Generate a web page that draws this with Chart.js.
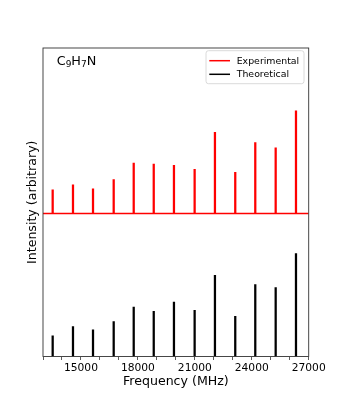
<!DOCTYPE html>
<html>
<head>
<meta charset="utf-8">
<script src="https://cdn.jsdelivr.net/npm/chart.js@4.4.0/dist/chart.umd.min.js"></script>
<style>
  html, body { margin: 0; padding: 0; background: #fff; }
  canvas { display: block; }
</style>
</head>
<body>
<canvas id="spectrum" width="343" height="401"></canvas>
<script>
// ---- data ----
// line positions (MHz)
const frequencies = [13510, 14580, 15635, 16725, 17780, 18835, 19900, 20990, 22060, 23130, 24185, 25260, 26330];
// relative intensities (strongest line = 1)
const experimental = [0.23, 0.28, 0.24, 0.33, 0.49, 0.48, 0.47, 0.43, 0.79, 0.40, 0.69, 0.64, 1.00];
const theoretical = [0.20, 0.29, 0.26, 0.34, 0.48, 0.44, 0.53, 0.45, 0.79, 0.39, 0.70, 0.67, 1.00];
// experimental trace is shifted up by this much
const expOffset = 1.39;
const xTickLabels = [15000, 18000, 21000, 24000, 27000];
const xMin = 13000;
const xMax = 27000;

const FONT = "'DejaVu Sans', sans-serif";

// ---- frame, legend and formula label ----
const decorations = {
  id: 'decorations',
  afterDraw(chart) {
    const { ctx, chartArea: a } = chart;
    ctx.save();

    // axes frame on all four sides
    ctx.strokeStyle = '#333';
    ctx.lineWidth = 0.9;
    ctx.strokeRect(a.left, a.top, a.right - a.left, a.bottom - a.top);

    // molecule label C9H7N with subscripts
    const parts = [['C', false], ['9', true], ['H', false], ['7', true], ['N', false]];
    let x = a.left + 13.7;
    const base = a.top + 17;
    ctx.fillStyle = '#000';
    ctx.textBaseline = 'alphabetic';
    ctx.textAlign = 'left';
    parts.forEach(([t, sub]) => {
      ctx.font = (sub ? '9px ' : '12.8px ') + FONT;
      ctx.fillText(t, x, sub ? base + 2.2 : base);
      x += ctx.measureText(t).width;
    });

    // legend box
    const bx = 206, by = 50.7, bw = 98, bh = 33;
    ctx.beginPath();
    ctx.roundRect(bx, by, bw, bh, 2.5);
    ctx.fillStyle = 'rgba(255,255,255,0.8)';
    ctx.fill();
    ctx.strokeStyle = '#d6d6d6';
    ctx.lineWidth = 0.9;
    ctx.stroke();

    const entries = chart.data.datasets.filter(d => d.inLegend);
    ctx.font = '9.4px ' + FONT;
    ctx.textBaseline = 'middle';
    entries.forEach((d, i) => {
      const y = by + 10 + i * 13.6;
      ctx.beginPath();
      ctx.moveTo(bx + 3.3, y);
      ctx.lineTo(bx + 24, y);
      ctx.strokeStyle = d.backgroundColor;
      ctx.lineWidth = 1.5;
      ctx.stroke();
      ctx.fillStyle = '#000';
      ctx.fillText(d.label, bx + 30.7, y + 0.5);
    });

    ctx.restore();
  }
};

new Chart(document.getElementById('spectrum'), {
  data: {
    datasets: [
      {
        type: 'bar',
        label: 'Experimental',
        inLegend: true,
        data: frequencies.map((f, i) => ({ x: f, y: [expOffset, expOffset + experimental[i]] })),
        backgroundColor: '#ff0000',
        barThickness: 1.6,
        grouped: false,
      },
      {
        type: 'line',
        label: 'baseline',
        data: [{ x: xMin, y: expOffset }, { x: xMax, y: expOffset }],
        borderColor: '#ff0000',
        borderWidth: 1.5,
        pointRadius: 0,
      },
      {
        type: 'bar',
        label: 'Theoretical',
        inLegend: true,
        data: frequencies.map((f, i) => ({ x: f, y: theoretical[i] })),
        backgroundColor: '#000000',
        barThickness: 1.6,
        grouped: false,
      },
    ],
  },
  options: {
    responsive: false,
    animation: false,
    devicePixelRatio: 1,
    layout: { padding: { left: 0, top: 48, right: 34.3, bottom: 0 } },
    plugins: {
      legend: { display: false },
      tooltip: { enabled: false },
    },
    scales: {
      x: {
        type: 'linear',
        min: xMin,
        max: xMax,
        offset: false,
        border: { display: false },
        grid: {
          display: true,
          offset: false,
          drawOnChartArea: false,
          drawTicks: true,
          tickLength: 3.5,
          tickColor: '#333',
          tickWidth: 0.8,
        },
        ticks: {
          stepSize: 1000,
          autoSkip: false,
          maxRotation: 0,
          padding: 2,
          color: '#000',
          font: { family: FONT, size: 10.7 },
          callback: (v) => (xTickLabels.includes(v) ? String(v) : ''),
        },
        title: {
          display: true,
          text: 'Frequency (MHz)',
          color: '#000',
          font: { family: FONT, size: 12.6 },
          padding: { top: 0, bottom: 11.7 },
        },
        afterFit: (scale) => { scale.height = 44.5; },
      },
      y: {
        min: 0,
        max: 3,
        border: { display: false },
        grid: { display: false },
        ticks: { display: false },
        title: {
          display: true,
          text: 'Intensity (arbitrary)',
          color: '#000',
          font: { family: FONT, size: 12.6 },
          padding: { top: 25.4, bottom: 0 },
        },
        afterFit: (scale) => { scale.width = 43; },
      },
    },
  },
  plugins: [decorations],
});
</script>
</body>
</html>
